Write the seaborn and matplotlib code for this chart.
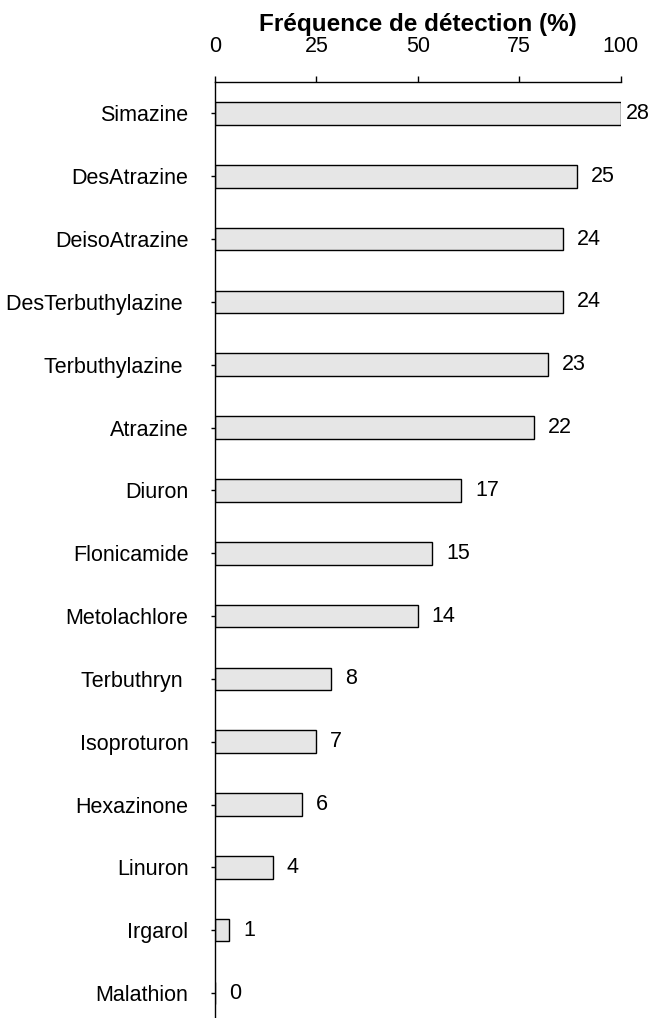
import matplotlib
matplotlib.use("Agg")
import matplotlib.pyplot as plt
import seaborn as sns
import pandas as pd

# Number of samples (out of 28) in which each pesticide was detected
substances = [
    "Simazine", "DesAtrazine", "DeisoAtrazine", "DesTerbuthylazine ",
    "Terbuthylazine ", "Atrazine", "Diuron", "Flonicamide", "Metolachlore",
    "Terbuthryn ", "Isoproturon", "Hexazinone", "Linuron", "Irgarol", "Malathion",
]
detections = [28, 25, 24, 24, 23, 22, 17, 15, 14, 8, 7, 6, 4, 1, 0]
n_samples = 28
x_ticks = [0, 25, 50, 75, 100]

df = pd.DataFrame({"substance": substances, "n": detections})
df["freq"] = df["n"] / n_samples * 100

sns.set_theme(style="white")
plt.rcParams["font.family"] = ["Liberation Sans", "DejaVu Sans"]
plt.rcParams.update({
    "text.color": "black",
    "axes.labelcolor": "black",
    "xtick.color": "black",
    "ytick.color": "black",
})

fig = plt.figure(figsize=(6.54, 10.18), dpi=100)
ax = fig.add_axes([0.3287, -0.0063, 0.6203, 0.9257])

sns.barplot(data=df, x="freq", y="substance", orient="h", color="#e6e6e6",
            edgecolor="black", linewidth=1.0, width=0.36, saturation=1, ax=ax)

for i, (f, n) in enumerate(zip(df["freq"], df["n"])):
    offset = 3.5 if f >= 100 else 10
    ax.annotate(str(n), xy=(f, i), xytext=(offset, 0), textcoords="offset points",
                ha="left", va="center", fontsize=15.5, color="black")

ax.set_xlim(0, 100)
ax.set_ylim(14.5, -0.5)
ax.set_xticks(x_ticks)
ax.xaxis.tick_top()
ax.xaxis.set_label_position("top")
ax.set_xlabel("Fréquence de détection (%)", fontsize=17.5, fontweight="bold", labelpad=3)
ax.set_ylabel("")

for side in ("bottom", "right"):
    ax.spines[side].set_visible(False)
for side in ("top", "left"):
    ax.spines[side].set_color("black")
    ax.spines[side].set_linewidth(1.0)

ax.tick_params(axis="x", which="both", top=True, bottom=False, length=4.3, width=1,
               color="black", labelsize=15.5, pad=14, direction="out")
ax.tick_params(axis="y", which="both", left=True, length=3, width=1,
               color="black", labelsize=15.5, pad=16, direction="out")
ax.grid(False)

fig.savefig("out.png", dpi=100, facecolor="white")
